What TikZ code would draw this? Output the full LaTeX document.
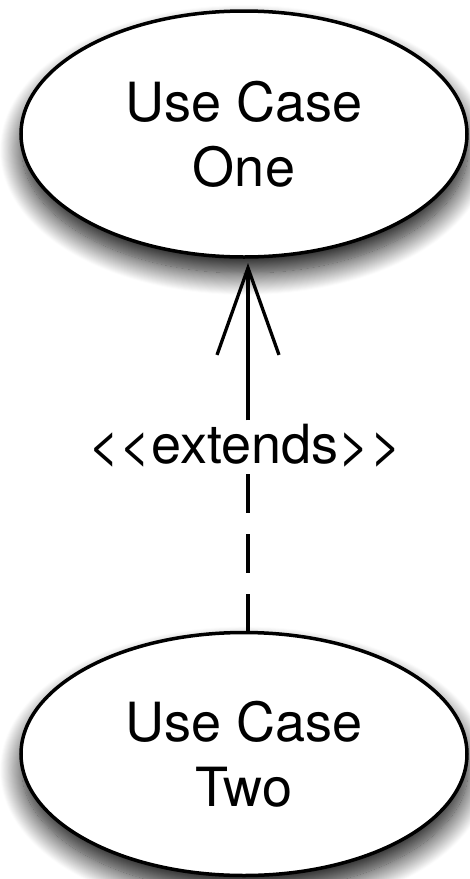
\documentclass[tikz,border=0pt]{standalone}
\usepackage{fontspec}
\setmainfont{TeX Gyre Heros}
\usetikzlibrary{shapes.geometric,shadows.blur,arrows.meta}
\begin{document}
\begin{tikzpicture}[x=1pt,y=-1pt,
  usecase/.style={ellipse,draw,line width=3.5pt,fill=white,inner sep=0pt,outer sep=0pt,
    minimum width=446pt,align=center,
    font=\fontsize{54}{65}\selectfont,
    blur shadow={shadow xshift=1pt,shadow yshift=-16pt,shadow blur radius=22pt,shadow opacity=95,shadow blur steps=24}},
  stereo/.style={fill=white,inner sep=4pt,font=\fontsize{54}{60}\selectfont},
  conn/.style={line width=3.3pt}]
\useasboundingbox (0,0) rectangle (469,879);
\node[usecase,minimum height=246pt] (one) at (244,134) {Use Case\\One};
\node[usecase,minimum height=243pt] (two) at (244,754) {Use Case\\Two};
\node[stereo] (lab) at (245,446) {<\kern0pt<extends>\kern0pt>};
\draw[conn,dash pattern=on 39pt off 21pt] (two.north -| 248,0) -- (248,0 |- lab.south);
\draw[conn,-{Straight Barb[length=87pt,width=62pt,line width=3.3pt]},shorten >=6pt] (248,0 |- lab.north) -- (one.south -| 248,0);
\end{tikzpicture}
\end{document}
